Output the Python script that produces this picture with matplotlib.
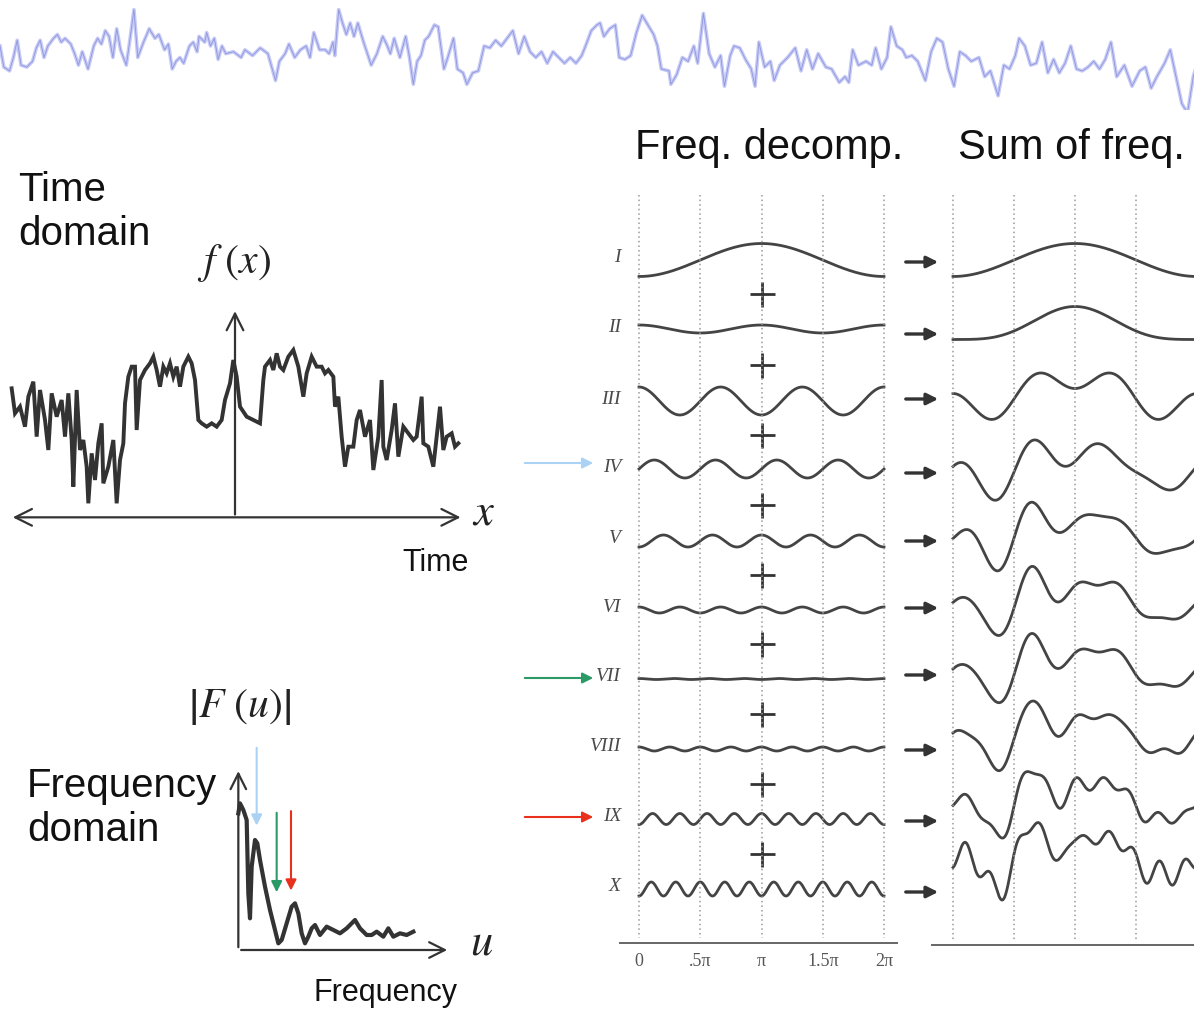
import numpy as np
import matplotlib.pyplot as plt

plt.rcParams['font.family'] = ['Liberation Sans', 'DejaVu Sans']
plt.rcParams['mathtext.fontset'] = 'stix'

W, H = 1194, 1010

# ---- data ----
# top strip (readings on a crop, x along, y downwards)
top_a = [(0,120),(10,175),(25,185),(35,150),(45,105),(55,170),(70,175),(85,160),(95,125),(105,105),
         (115,150),(125,120),(140,100),(150,90),(160,110),(170,100),(185,115),(195,140),(205,170),(215,135),
         (230,180),(245,120),(255,100),(265,115),(275,80),(285,95),(295,150),(305,75),(315,130),(330,170),
         (340,100),(350,25),(360,150),(375,110),(390,75),(405,100),(415,90),(430,130),(440,115),(450,180),
         (460,160),(470,150),(480,165),(495,120),(505,110),(515,135),(520,95),(535,110),(540,85),(550,120),
         (560,100),(570,155),(580,120),(590,140),(610,135),(630,150),(640,130),(660,145),(680,125),(700,140),
         (710,175),(720,210),(730,160),(745,140),(755,115),(770,150),(785,130),(800,120),(810,150),(820,85),
         (835,130),(850,130),(860,140),(870,110),(875,145),(885,25),(895,60),(905,90),(915,60),(925,95),
         (935,60),(950,110),(970,170),(985,140),(1000,95),(1010,115),(1020,140),(1030,100),(1045,150),(1060,95),
         (1070,150),(1080,220),(1090,160),(1100,145),(1110,105),(1120,95),(1135,65),(1145,70),(1160,180),(1170,150),
         (1185,100),(1195,180),(1210,190),(1220,220),(1235,190),(1250,185),(1265,120),(1280,125),(1295,105),(1310,120),
         (1325,100),(1340,80),(1355,140),(1370,95),(1385,135),(1400,150),(1415,135),(1430,165),(1445,135),(1460,150),
         (1475,165),(1490,150),(1505,165),(1520,145),(1530,120),(1545,80),(1560,65)]
top_b = [(0,60),(10,95),(25,75),(40,65),(50,150),(65,155),(80,145),(95,85),(110,40),(125,65),
         (140,90),(150,120),(160,180),(180,185),(185,220),(200,195),(215,150),(230,160),(245,120),(255,165),
         (270,35),(285,140),(300,175),(315,145),(325,225),(340,145),(350,120),(365,125),(380,155),(395,180),
         (405,225),(415,110),(430,175),(445,160),(455,210),(470,170),(490,150),(510,125),(525,185),(540,130),
         (555,180),(570,140),(590,175),(605,180),(625,215),(640,200),(650,215),(660,130),(675,170),(695,160),
         (710,170),(720,125),(735,180),(750,150),(760,70),(775,120),(790,130),(800,150),(815,145),(830,160),
         (850,210),(865,135),(880,100),(895,110),(910,180),(925,225),(940,135),(955,145),(970,160),(990,150),
         (1005,200),(1020,185),(1040,250),(1055,170),(1070,180),(1085,145),(1095,100),(1110,120),(1125,170),(1140,165),
         (1155,110),(1170,190),(1185,155),(1200,190),(1215,165),(1230,120),(1245,180),(1260,185),(1275,175),(1290,160),
         (1305,180),(1320,155),(1335,110),(1350,200),(1370,170),(1390,225),(1410,185),(1425,175),(1440,230),(1455,200),
         (1475,165),(1490,130),(1505,200),(1520,270),(1535,295),(1550,200),(1565,150)]

# time-domain signal f(x)
sig_pts = [(35,325),(45,400),(60,380),(75,440),(85,350),(100,305),(110,470),(120,330),(135,420),(145,510),
           (155,340),(170,410),(185,360),(195,470),(205,340),(215,480),(220,620),(230,330),(240,510),(250,480),
           (260,560),(265,670),(275,520),(285,600),(295,490),(305,430),(310,610),(325,560),(340,480),(350,670),
           (360,540),(370,490),(375,370),(385,290),(395,260),(405,260),(410,450),(420,300),(435,270),(450,250),
           (460,230),(470,270),(480,320),(490,260),(500,280),(510,250),(520,290),(530,260),(540,320),(550,260),
           (565,230),(575,250),(585,300),(595,420),(605,430),(620,440),(635,430),(650,440),(665,420),(675,360),
           (690,310),(700,240),(710,290),(720,380),(740,410),(760,420),(780,430),(790,300),(795,260),(810,240),
           (820,270),(830,220),(840,260),(850,270),(865,230),(880,210),(895,260),(910,350),(920,280),(935,230),
           (950,260),(965,260),(975,280),(985,270),(1000,290),(1005,380),(1015,350),(1025,470),(1035,560),(1045,500),
           (1060,500),(1070,420),(1080,390),(1095,470),(1110,420),(1120,570),(1135,470),(1145,300),(1150,500),(1160,540),
           (1175,450),(1185,370),(1195,530),(1210,440),(1225,460),(1240,480),(1250,470),(1265,350),(1270,490),(1285,500),
           (1300,560),(1310,470),(1320,380),(1330,510),(1340,470),(1355,460),(1365,500),(1375,490)]

# spectrum |F(u)|
spec_pts = [(175,400),(180,370),(190,390),(200,420),(205,640),(210,715),(215,560),(225,480),(232,490),(240,540),
            (255,620),(270,690),(285,750),(295,790),(305,780),(320,730),(335,680),(345,670),(355,700),(365,760),
            (375,790),(385,770),(395,745),(405,735),(420,765),(440,740),(460,750),(480,760),(500,745),(515,730),
            (525,720),(540,745),(560,765),(575,765),(590,755),(610,770),(625,745),(640,770),(660,760),(680,765),
            (700,755)]

# frequency components I..X
comp_names = ['I', 'II', 'III', 'IV', 'V', 'VI', 'VII', 'VIII', 'IX', 'X']
comp_freq = [1, 2, 3, 4, 5, 6, 7, 8, 9, 10]
comp_amp = [16.5, 4.0, 14.0, 9.0, 6.0, 3.0, 0.5, 2.0, 5.5, 7.0]
comp_phase = [np.pi, 0.0, 0.0, np.pi / 2, np.pi, 0.0, 0.0, 0.0, np.pi, np.pi]
tick_vals = [0, 0.5 * np.pi, np.pi, 1.5 * np.pi, 2 * np.pi]
tick_labels = ['0', '.5\u03c0', '\u03c0', '1.5\u03c0', '2\u03c0']

# layout (pixel rows)
row_y = [260, 329, 401, 469, 541, 610, 679, 749, 819, 889]
sum_y = [260, 327, 395, 468, 534, 601, 668, 734, 801, 856]
arrow_y = [262, 334, 399, 473, 541, 608, 675, 750, 821, 892]

fig = plt.figure(figsize=(W / 100, H / 100), dpi=100)
fig.patch.set_facecolor('white')


def box(l, t, r, b):
    a = fig.add_axes([l / W, 1 - b / H, (r - l) / W, (b - t) / H])
    a.set_facecolor('none')
    return a


ink = '#333333'

# overlay in pixel units for labels and pointers
ov = box(0, 0, W, H)
ov.set_xlim(0, W)
ov.set_ylim(H, 0)
ov.axis('off')

# ---- top strip ----
at = box(0, 0, W, 110)
xa, ya = zip(*top_a)
xb, yb = zip(*top_b)
tx = list(xa) + [1568 + v for v in xb]
ty = list(ya) + list(yb)
at.plot(tx, ty, color='#c6caf6', lw=2.6, solid_joinstyle='round')
at.plot(tx, ty, color='#8f96dc', lw=0.6)
at.set_xlim(0, W / 0.3827)
at.set_ylim(287, 0)
at.axis('off')

# ---- time domain ----
ad = box(0, 280, 480, 540)
sx, sy = zip(*sig_pts)
ad.plot(sx, sy, color=ink, lw=2.8, solid_joinstyle='miter')
ad.set_xlim(0, 1440)
ad.set_ylim(780, 0)
ad.axis('off')
ad.annotate('', xy=(30, 712), xytext=(1390, 712),
            arrowprops=dict(arrowstyle='<->', color=ink, lw=1.6, mutation_scale=30))
ad.annotate('', xy=(705, 85), xytext=(705, 712),
            arrowprops=dict(arrowstyle='->', color=ink, lw=1.6, mutation_scale=30))

# ---- spectrum ----
asp = box(180, 680, 500, 1010)
px, py = zip(*spec_pts)
asp.plot(px, py, color=ink, lw=3.0)
asp.set_xlim(0, 960)
asp.set_ylim(990, 0)
asp.axis('off')
asp.annotate('', xy=(175, 265), xytext=(175, 810),
             arrowprops=dict(arrowstyle='->', color=ink, lw=1.6, mutation_scale=28))
asp.annotate('', xy=(810, 810), xytext=(175, 810),
             arrowprops=dict(arrowstyle='->', color=ink, lw=1.6, mutation_scale=28))
for xv, y0, y1, c in [(230, 195, 445, '#a9d2f5'), (290, 390, 645, '#2c9a66'), (333, 385, 640, '#e8301c')]:
    asp.annotate('', xy=(xv, y1), xytext=(xv, y0),
                 arrowprops=dict(arrowstyle='-|>', color=c, lw=1.5, mutation_scale=16))

# ---- frequency decomposition ----
x = np.linspace(0, 2 * np.pi, 600)
waves = np.array([a * np.cos(f * x - p) for a, f, p in zip(comp_amp, comp_freq, comp_phase)])
partial = np.cumsum(waves, axis=0)

k1 = 2 * np.pi / 245.0
al = box(620, 190, 897, 943)
al.set_xlim((620 - 639) * k1, (897 - 639) * k1)
al.set_ylim(943, 190)
for i, name in enumerate(comp_names):
    al.plot(x, row_y[i] - waves[i], color='#444444', lw=2.0)
    al.text((621 - 639) * k1, row_y[i] - 2, name, ha='right', va='center', color='#4a4a4a',
            fontsize=14, family='Liberation Serif', style='italic')
mids = [(row_y[i] + row_y[i + 1]) / 2 for i in range(len(row_y) - 1)]
al.plot([np.pi] * len(mids), mids, ls='none', marker='+', ms=18, mew=2.0, color='#333333')
al.vlines(tick_vals, 195, 938, colors='#9a9a9a', linestyles=(0, (1, 2)), lw=1.1)
for s in ['top', 'left', 'right']:
    al.spines[s].set_visible(False)
al.spines['bottom'].set_color('#666666')
al.spines['bottom'].set_linewidth(1.4)
al.set_yticks([])
al.set_xticks(tick_vals, tick_labels)
al.tick_params(axis='x', length=0, pad=7, labelsize=13, labelcolor='#555555')
for t in al.get_xticklabels():
    t.set_family('Liberation Serif')

# ---- sums ----
k2 = 2 * np.pi / 244.0
ar = box(932, 190, W, 945)
ar.set_xlim((932 - 953) * k2, (W - 953) * k2)
ar.set_ylim(945, 190)
for i in range(len(comp_names)):
    ar.plot(x, sum_y[i] - partial[i], color='#444444', lw=2.0)
ar.vlines(tick_vals[:4], 195, 940, colors='#9a9a9a', linestyles=(0, (1, 2)), lw=1.1)
for s in ['top', 'left', 'right']:
    ar.spines[s].set_visible(False)
ar.spines['bottom'].set_color('#666666')
ar.spines['bottom'].set_linewidth(1.4)
ar.set_xticks([])
ar.set_yticks([])

# arrows between columns
for y in arrow_y:
    ov.annotate('', xy=(941, y), xytext=(903, y),
                arrowprops=dict(arrowstyle='-|>', color='#333333', lw=2.4, mutation_scale=17))
for y, c in [(463, '#a9d2f5'), (678, '#2c9a66'), (817, '#e8301c')]:
    ov.annotate('', xy=(596, y), xytext=(522, y),
                arrowprops=dict(arrowstyle='-|>', color=c, lw=1.5, mutation_scale=16))

# ---- texts ----
ov.text(18, 212, 'Time\ndomain', ha='left', va='center', fontsize=29, linespacing=1.2, color='#111111')
ov.text(27, 808, 'Frequency\ndomain', ha='left', va='center', fontsize=29, linespacing=1.2, color='#111111')
ov.text(769, 148, 'Freq. decomp.', ha='center', va='center', fontsize=30, color='#111111')
ov.text(958, 148, 'Sum of freq.', ha='left', va='center', fontsize=30, color='#111111')
ov.text(436, 563, 'Time', ha='center', va='center', fontsize=22, color='#111111')
ov.text(385, 993, 'Frequency', ha='center', va='center', fontsize=22, color='#111111')
ov.text(234, 263, r'$f\ (x)$', ha='center', va='center', fontsize=30, color='#222222')
ov.text(240, 707, r'$\left|F\ (u)\right|$', ha='center', va='center', fontsize=30, color='#222222')
ov.text(484, 513, r'$x$', ha='center', va='center', fontsize=32, color='#222222')
ov.text(482, 943, r'$u$', ha='center', va='center', fontsize=32, color='#222222')

fig.savefig('out.png', dpi=100, facecolor='white')
